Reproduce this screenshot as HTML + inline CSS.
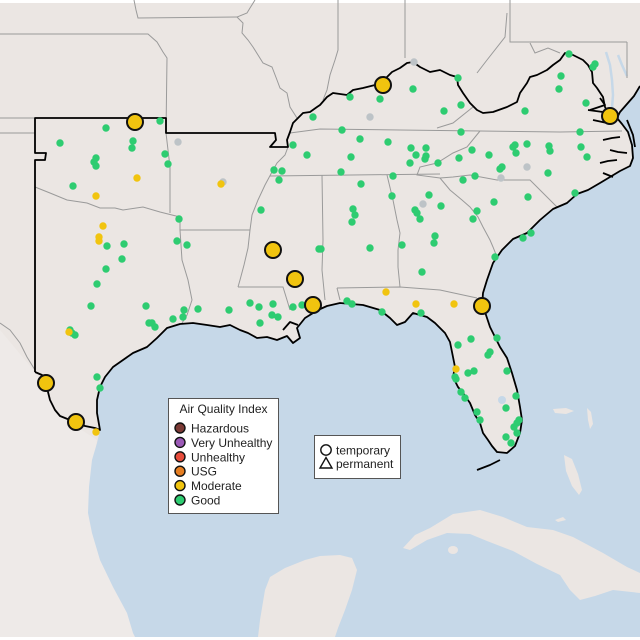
<!DOCTYPE html>
<html><head><meta charset="utf-8"><style>
html,body{margin:0;padding:0;background:#fff;}
svg{display:block;}
text{font-family:"Liberation Sans",Arial,sans-serif;fill:#222;}
</style></head><body>
<svg width="640" height="640" viewBox="0 0 640 640" xmlns="http://www.w3.org/2000/svg">
<rect x="0" y="0" width="640" height="640" fill="#ffffff"/>
<rect x="0" y="3" width="640" height="634" fill="#ebe6e3"/>
<!-- Mexico lighter hillshade -->
<path d="M0,330 L35,372 L60,416 L97,440 L92,470 L90,520 L100,560 L127,613 L135,637 L0,637 Z" fill="#eeeae8"/>
<!-- ocean -->
<path fill="#c6d8e8" d="M640,86 L634,96 L627,104 L620,112 L617,118 L622,124 L628,132 L632,145 L633,158 L630,166 L620,171 L610,177 L600,183 L588,190 L577,194 L567,203 L553,209 L540,220 L527,233 L513,239 L502,250 L493,263 L487,280 L483,293 L482,307 L485,312 L490,327 L500,347 L507,358 L512,373 L517,390 L520,407 L522,420 L520,433 L515,446 L507,453 L497,452 L492,446 L488,440 L483,433 L480,423 L475,415 L470,403 L463,393 L458,387 L453,377 L455,367 L453,357 L450,342 L445,333 L435,323 L427,317 L413,313 L405,322 L397,325 L390,318 L380,310 L363,305 L340,303 L327,306 L318,310 L305,318 L297,328 L300,338 L293,343 L287,336 L277,340 L267,337 L257,338 L248,333 L240,330 L230,325 L220,327 L207,325 L193,323 L180,324 L167,328 L157,338 L147,347 L133,353 L123,360 L113,367 L105,377 L100,387 L97,400 L97,413 L100,430 L97,443 L92,460 L89,487 L88,513 L92,533 L100,560 L113,587 L127,613 L133,633 L135,637 L258,637 L260,620 L265,590 L270,577 L285,568 L305,560 L320,556 L340,555 L352,558 L357,570 L352,590 L345,610 L338,628 L335,637 L640,637 Z"/>
<!-- Cuba & islands -->
<path fill="#ebe6e3" d="M403,548 L415,535 L430,528 L453,514 L480,510 L503,517 L527,527 L553,530 L573,537 L603,553 L627,567 L640,573 L640,593 L613,590 L595,596 L580,600 L570,590 L560,575 L537,564 L513,551 L487,541 L470,534 L447,533 L427,540 L410,550 Z"/>
<ellipse cx="453" cy="550" rx="5" ry="4" fill="#ebe6e3"/>
<path fill="#ebe6e3" d="M564,455 L572,459 L578,474 L582,490 L579,495 L572,486 L566,471 Z"/>
<path fill="#ebe6e3" d="M553,409 L566,408 L574,411 L566,414 L555,413 Z"/>
<path fill="#ebe6e3" d="M587,408 L591,412 L593,424 L590,429 L588,420 Z"/>
<path fill="#ebe6e3" d="M555,520 L563,517 L566,520 L558,522 Z"/>
<!-- lakes/bays -->
<ellipse cx="502" cy="400" rx="4" ry="4" fill="#c6d8e8"/>
<polyline points="606,52 610,65 612,80 613,95 612,108" fill="none" stroke="#c6d8e8" stroke-width="2.5"/>
<polyline points="618,55 622,65 627,76" fill="none" stroke="#c6d8e8" stroke-width="2.5"/>
<!-- state borders -->
<g fill="none" stroke="#9a9a9a" stroke-width="1">
<polyline points="0,34 148,34 157,42 163,52 167,58 166,133"/>
<polyline points="0,118 35,118"/>
<polyline points="0,133 35,133"/>
<polyline points="134,0 136,10 138,18 237,17"/>
<polyline points="255,0 250,8 247,13 237,17 243,23 242,33 248,40 253,47 258,55 263,63 272,67 277,80 280,88 287,93 290,107 297,118"/>
<polyline points="35,187 50,193 67,200 87,203 100,208 115,208 123,210 143,207 160,212 172,215 180,217"/>
<polyline points="166,133 170,167 170,213"/>
<polyline points="180,217 180,230 182,260 188,280 192,300 187,315 182,323"/>
<polyline points="180,230 250,230"/>
<polyline points="288,147 285,155 277,163 272,172 265,185 258,200 252,215 250,230 248,248 244,265 240,280 238,287"/>
<polyline points="238,287 283,287 287,300 290,310"/>
<polyline points="290,133 320,129 400,130 480,131 560,132 622,131"/>
<polyline points="270,176 440,174"/>
<polyline points="322,175 323,240 322,270 325,300"/>
<polyline points="480,131 467,147 453,153 437,163 420,167 417,175 440,178"/>
<polyline points="440,178 453,177 470,175 497,180 530,180 545,195 557,207"/>
<polyline points="440,178 450,190 462,200 470,207 478,217 483,227 490,240 493,247 497,257"/>
<polyline points="387,175 393,200 397,220 400,233 398,250 398,267 400,287"/>
<polyline points="337,288 400,287 440,290 477,298"/>
<polyline points="337,288 340,300"/>
<polyline points="437,128 453,123 473,107"/>
<polyline points="338,0 338,50 335,60 330,75 327,90 323,100"/>
<polyline points="405,0 405,58"/>
<polyline points="510,0 510,42 627,42"/>
<polyline points="507,13 505,37 487,60 477,73"/>
<polyline points="530,43 535,53 548,48 560,53"/>
<polyline points="627,42 627,78"/>
<polyline points="0,323 10,330 20,343 27,357 35,370"/>
</g>
<!-- region outline -->
<g fill="none" stroke="#000" stroke-width="1.8" stroke-linejoin="round">
<polyline points="35,372 35,160 45,160 46,153 35,153 35,118 166,118 166,133 275,133 276,140 270,147 288,147 287,140 290,132 293,123 298,118 303,113 310,112 317,107 320,105 327,97 333,93 347,95 353,90 363,88 375,85 387,77 392,72 400,68 407,63 413,62 420,67 430,72 440,70 450,75 457,77 458,85 463,93 470,103 477,110 483,113 493,112 507,107 517,102 520,93 527,83 530,77 537,75 547,70 553,65 560,60 565,53 573,55 583,60 588,65 592,72 593,83 597,88 603,97 605,107 608,113 615,118"/>
<polyline points="640,86 634,96 627,104 620,112 617,118 622,124 628,132 632,145 633,158 630,166 620,171 610,177 600,183 588,190 577,194 567,203 553,209 540,220 527,233 513,239 502,250 493,263 487,280 483,293 482,307 485,312 490,327 500,347 507,358 512,373 517,390 520,407 522,420 520,433 515,446 507,453 497,452 492,446 488,440 483,433 480,423 475,415 470,403 463,393 458,387 453,377 455,367 453,357 450,342 445,333 435,323 427,317 413,313 405,322 397,325 390,318 380,310 363,305 340,303 327,306 318,310 305,318 297,328 300,338 293,343 287,336 277,340 267,337 257,338 248,333 240,330 230,325 220,327 207,325 193,323 180,324 167,328 157,338 147,347 133,353 123,360 113,367 105,377 100,387 97,400 97,413 100,430 95,428 85,426 76,422 70,420 60,416 55,410 50,400 48,392 46,383 42,375 35,372"/>
<polyline points="590,110 605,105 600,98"/>
<polyline points="588,110 603,112"/>
<polyline points="593,120 607,123"/>
<polyline points="603,140 612,138 620,137"/>
<polyline points="610,150 618,152 627,153"/>
<polyline points="600,163 608,161 617,160"/>
<polyline points="603,173 613,177"/>
<polyline points="627,120 633,135 635,147"/>
<polyline points="477,470 490,465 500,460"/>
<polyline points="283,330 290,322 298,325"/>
</g>
<!-- gray dots -->
<g fill="#bdc3c7">
<circle cx="178" cy="142" r="3.7"/><circle cx="223" cy="182" r="3.7"/><circle cx="414" cy="62" r="3.7"/><circle cx="370" cy="117" r="3.7"/><circle cx="527" cy="167" r="3.7"/><circle cx="501" cy="178" r="3.7"/><circle cx="423" cy="204" r="3.7"/>
</g>
<!-- green dots -->
<g fill="#2ecc71">
<circle cx="106" cy="128" r="3.7"/><circle cx="60" cy="143" r="3.7"/><circle cx="133" cy="141" r="3.7"/><circle cx="132" cy="148" r="3.7"/><circle cx="96" cy="158" r="3.7"/><circle cx="94" cy="162" r="3.7"/><circle cx="96" cy="166" r="3.7"/><circle cx="165" cy="154" r="3.7"/><circle cx="168" cy="164" r="3.7"/><circle cx="73" cy="186" r="3.7"/><circle cx="160" cy="121" r="3.7"/><circle cx="179" cy="219" r="3.7"/><circle cx="177" cy="241" r="3.7"/><circle cx="187" cy="245" r="3.7"/><circle cx="124" cy="244" r="3.7"/><circle cx="107" cy="246" r="3.7"/><circle cx="122" cy="259" r="3.7"/><circle cx="106" cy="269" r="3.7"/><circle cx="97" cy="284" r="3.7"/><circle cx="91" cy="306" r="3.7"/><circle cx="146" cy="306" r="3.7"/><circle cx="184" cy="310" r="3.7"/><circle cx="198" cy="309" r="3.7"/><circle cx="229" cy="310" r="3.7"/><circle cx="250" cy="303" r="3.7"/><circle cx="259" cy="307" r="3.7"/><circle cx="273" cy="304" r="3.7"/><circle cx="293" cy="307" r="3.7"/><circle cx="302" cy="305" r="3.7"/><circle cx="313" cy="117" r="3.7"/><circle cx="293" cy="145" r="3.7"/><circle cx="307" cy="155" r="3.7"/><circle cx="274" cy="170" r="3.7"/><circle cx="282" cy="171" r="3.7"/><circle cx="279" cy="180" r="3.7"/><circle cx="261" cy="210" r="3.7"/><circle cx="319" cy="249" r="3.7"/>
<circle cx="183" cy="317" r="3.7"/><circle cx="173" cy="319" r="3.7"/><circle cx="152" cy="323" r="3.7"/><circle cx="155" cy="327" r="3.7"/><circle cx="149" cy="323" r="3.7"/><circle cx="272" cy="315" r="3.7"/><circle cx="278" cy="317" r="3.7"/><circle cx="260" cy="323" r="3.7"/><circle cx="70" cy="330" r="3.7"/><circle cx="75" cy="335" r="3.7"/><circle cx="72" cy="333" r="3.7"/><circle cx="97" cy="377" r="3.7"/><circle cx="100" cy="388" r="3.7"/>
<circle cx="569" cy="54" r="3.7"/><circle cx="593" cy="67" r="3.7"/><circle cx="595" cy="64" r="3.7"/><circle cx="561" cy="76" r="3.7"/><circle cx="559" cy="89" r="3.7"/><circle cx="586" cy="103" r="3.7"/><circle cx="525" cy="111" r="3.7"/><circle cx="458" cy="78" r="3.7"/><circle cx="413" cy="89" r="3.7"/><circle cx="380" cy="99" r="3.7"/><circle cx="350" cy="97" r="3.7"/><circle cx="444" cy="111" r="3.7"/><circle cx="461" cy="105" r="3.7"/><circle cx="342" cy="130" r="3.7"/><circle cx="360" cy="139" r="3.7"/><circle cx="388" cy="142" r="3.7"/><circle cx="461" cy="132" r="3.7"/><circle cx="411" cy="148" r="3.7"/><circle cx="416" cy="155" r="3.7"/><circle cx="426" cy="148" r="3.7"/><circle cx="426" cy="156" r="3.7"/><circle cx="425" cy="159" r="3.7"/><circle cx="410" cy="163" r="3.7"/><circle cx="438" cy="163" r="3.7"/><circle cx="351" cy="157" r="3.7"/><circle cx="341" cy="172" r="3.7"/><circle cx="472" cy="150" r="3.7"/><circle cx="459" cy="158" r="3.7"/><circle cx="489" cy="155" r="3.7"/><circle cx="515" cy="145" r="3.7"/><circle cx="513" cy="147" r="3.7"/><circle cx="516" cy="153" r="3.7"/><circle cx="527" cy="144" r="3.7"/><circle cx="549" cy="146" r="3.7"/><circle cx="550" cy="151" r="3.7"/><circle cx="580" cy="132" r="3.7"/><circle cx="581" cy="147" r="3.7"/><circle cx="587" cy="157" r="3.7"/><circle cx="502" cy="167" r="3.7"/><circle cx="500" cy="169" r="3.7"/><circle cx="548" cy="173" r="3.7"/><circle cx="463" cy="180" r="3.7"/><circle cx="475" cy="176" r="3.7"/><circle cx="393" cy="176" r="3.7"/><circle cx="361" cy="184" r="3.7"/><circle cx="392" cy="196" r="3.7"/><circle cx="429" cy="195" r="3.7"/><circle cx="441" cy="206" r="3.7"/><circle cx="415" cy="210" r="3.7"/><circle cx="417" cy="213" r="3.7"/><circle cx="420" cy="219" r="3.7"/><circle cx="353" cy="209" r="3.7"/><circle cx="355" cy="215" r="3.7"/><circle cx="352" cy="222" r="3.7"/><circle cx="494" cy="202" r="3.7"/><circle cx="528" cy="197" r="3.7"/><circle cx="575" cy="193" r="3.7"/><circle cx="477" cy="211" r="3.7"/><circle cx="473" cy="219" r="3.7"/><circle cx="435" cy="236" r="3.7"/><circle cx="434" cy="243" r="3.7"/><circle cx="402" cy="245" r="3.7"/><circle cx="370" cy="248" r="3.7"/><circle cx="321" cy="249" r="3.7"/><circle cx="531" cy="233" r="3.7"/><circle cx="523" cy="238" r="3.7"/><circle cx="495" cy="257" r="3.7"/><circle cx="422" cy="272" r="3.7"/><circle cx="347" cy="301" r="3.7"/><circle cx="352" cy="304" r="3.7"/><circle cx="382" cy="312" r="3.7"/><circle cx="421" cy="313" r="3.7"/>
<circle cx="458" cy="345" r="3.7"/><circle cx="471" cy="339" r="3.7"/><circle cx="497" cy="338" r="3.7"/><circle cx="490" cy="352" r="3.7"/><circle cx="488" cy="355" r="3.7"/><circle cx="507" cy="371" r="3.7"/><circle cx="468" cy="373" r="3.7"/><circle cx="474" cy="371" r="3.7"/><circle cx="455" cy="377" r="3.7"/><circle cx="456" cy="379" r="3.7"/><circle cx="461" cy="392" r="3.7"/><circle cx="465" cy="398" r="3.7"/><circle cx="477" cy="412" r="3.7"/><circle cx="480" cy="420" r="3.7"/><circle cx="516" cy="396" r="3.7"/><circle cx="506" cy="408" r="3.7"/><circle cx="519" cy="420" r="3.7"/><circle cx="517" cy="423" r="3.7"/><circle cx="514" cy="427" r="3.7"/><circle cx="517" cy="433" r="3.7"/><circle cx="506" cy="437" r="3.7"/><circle cx="511" cy="443" r="3.7"/>
</g>
<!-- yellow small -->
<g fill="#f1c40f">
<circle cx="137" cy="178" r="3.7"/><circle cx="96" cy="196" r="3.7"/><circle cx="103" cy="226" r="3.7"/><circle cx="99" cy="237" r="3.7"/><circle cx="99" cy="241" r="3.7"/><circle cx="221" cy="184" r="3.7"/><circle cx="386" cy="292" r="3.7"/><circle cx="416" cy="304" r="3.7"/><circle cx="454" cy="304" r="3.7"/><circle cx="69" cy="332" r="3.7"/><circle cx="96" cy="432" r="3.7"/><circle cx="456" cy="369" r="3.7"/>
</g>
<!-- big circles -->
<g fill="#f1c40f" stroke="#111" stroke-width="2">
<circle cx="135" cy="122" r="8"/><circle cx="273" cy="250" r="8"/><circle cx="295" cy="279" r="8"/><circle cx="313" cy="305" r="8"/><circle cx="383" cy="85" r="8"/><circle cx="610" cy="116" r="8"/><circle cx="482" cy="306" r="8"/><circle cx="46" cy="383" r="8"/><circle cx="76" cy="422" r="8"/>
</g>
<!-- legend AQI -->
<rect x="168.5" y="398.5" width="110" height="115" fill="#fff" stroke="#555" stroke-width="1"/>
<text x="223.5" y="413" font-size="12" text-anchor="middle">Air Quality Index</text>
<g stroke="#111" stroke-width="1.4">
<circle cx="180" cy="428" r="5" fill="#7b3a35"/>
<circle cx="180" cy="442.4" r="5" fill="#9b59b6"/>
<circle cx="180" cy="456.8" r="5" fill="#e74c3c"/>
<circle cx="180" cy="471.2" r="5" fill="#e67e22"/>
<circle cx="180" cy="485.6" r="5" fill="#f1c40f"/>
<circle cx="180" cy="500" r="5" fill="#2ecc71"/>
</g>
<g font-size="12">
<text x="191" y="432.5">Hazardous</text>
<text x="191" y="446.9">Very Unhealthy</text>
<text x="191" y="461.3">Unhealthy</text>
<text x="191" y="475.7">USG</text>
<text x="191" y="490.1">Moderate</text>
<text x="191" y="504.5">Good</text>
</g>
<!-- legend type -->
<rect x="314.5" y="435.5" width="86" height="43" fill="#fff" stroke="#555" stroke-width="1"/>
<circle cx="326" cy="450" r="5.2" fill="none" stroke="#111" stroke-width="1.4"/>
<polygon points="320,468 332,468 326,457.5" fill="none" stroke="#111" stroke-width="1.4"/>
<text x="336" y="454.5" font-size="12">temporary</text>
<text x="336" y="468" font-size="12">permanent</text>
</svg>
</body></html>
